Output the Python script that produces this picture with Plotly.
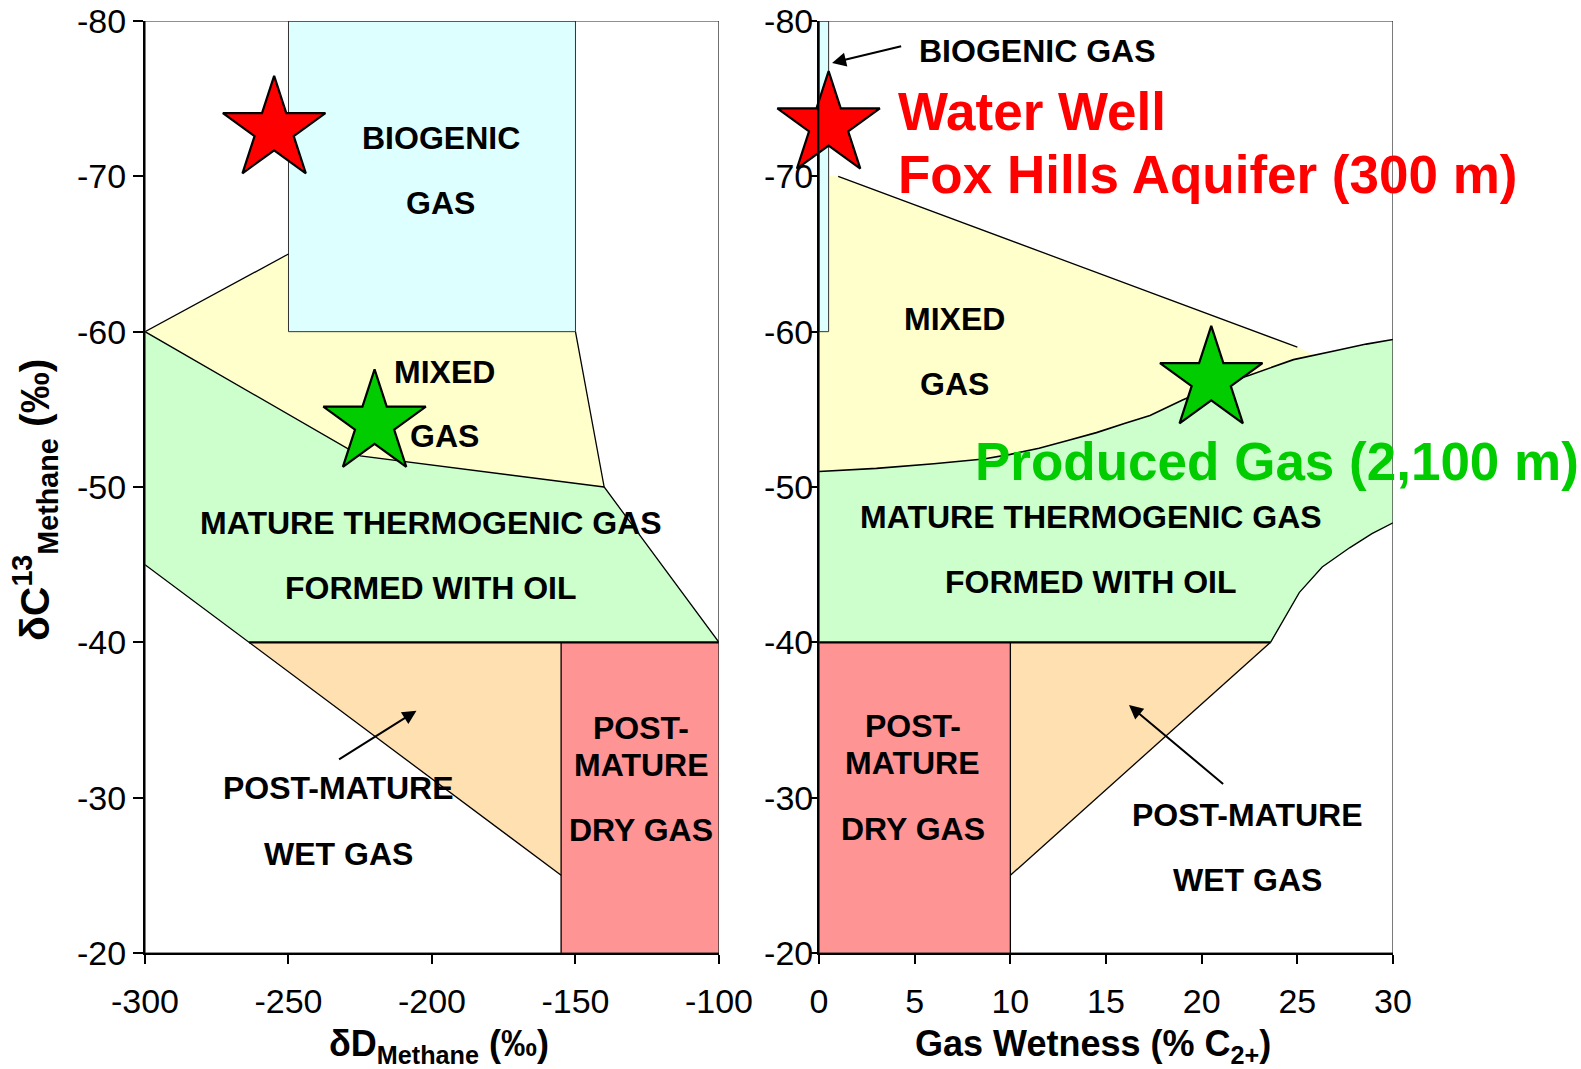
import plotly.graph_objects as go

FONT = "Liberation Sans, Arial, sans-serif"

# ---- axis ticks -------------------------------------------------------------
dD_ticks = [-300, -250, -200, -150, -100]
dD_ticktext = ["-300", "-250", "-200", "-150", "-100"]
wet_ticks = [0, 5, 10, 15, 20, 25, 30]
wet_ticktext = ["0", "5", "10", "15", "20", "25", "30"]
c13_ticks = [-80, -70, -60, -50, -40, -30, -20]
c13_ticktext = ["-80", "-70", "-60", "-50", "-40", "-30", "-20"]

# ---- left panel: δD vs δ13C genetic fields ---------------------------------
bio_dD = [-250, -150, -150, -250]
bio_c13 = [-80, -80, -60, -60]
mixed_dD = [-300, -250, -250, -150, -140, -225]
mixed_c13 = [-60, -65, -60, -60, -50, -52]
mature_dD = [-300, -225, -140, -100, -263.75, -300]
mature_c13 = [-60, -52, -50, -40, -40, -45]
wet_dD = [-263.75, -155, -155]
wet_c13 = [-40, -40, -25]
dry_dD = [-155, -100, -100, -155]
dry_c13 = [-40, -40, -20, -20]

# field boundaries (left)
edge_top_dD = [-300, -250]
edge_top_c13 = [-60, -65]
edge_right_dD = [-150, -140, -100]
edge_right_c13 = [-60, -50, -40]
edge_mid_dD = [-300, -225, -140]
edge_mid_c13 = [-60, -52, -50]
edge_diag_dD = [-300, -155]
edge_diag_c13 = [-45, -25]
edge_40_dD = [-263.75, -100]
edge_40_c13 = [-40, -40]
edge_dry_dD = [-155, -155]
edge_dry_c13 = [-40, -20]

# ---- right panel: gas wetness vs δ13C fields -------------------------------
bio_wet = [0, 0.5, 0.5, 0]
bio_c13_r = [-80, -80, -60, -60]
mixed_top_wet = [1, 25]
mixed_top_c13 = [-70, -59]
mixed_tip_wet, mixed_tip_c13 = 25.9, -58.45
# upper boundary of the thermogenic field
thermo_top_wet = [0, 3, 6, 8.6, 10, 11.5, 13, 14.5, 16, 17.3, 19, 20.5, 22.5, 24.8, 27.1, 28.6, 30]
thermo_top_c13 = [-51.0, -51.2, -51.5, -51.8, -52.1, -52.5, -53.0, -53.5, -54.1, -54.6, -55.6, -56.4, -57.2, -58.2, -58.8, -59.2, -59.5]
# lower/right boundary of the thermogenic field
thermo_side_wet = [30, 28.9, 27.75, 26.3, 25.1, 24.25, 23.6]
thermo_side_c13 = [-47.7, -47.0, -46.1, -44.85, -43.2, -41.4, -40]
dry_wet = [0, 10, 10, 0]
dry_c13_r = [-40, -40, -20, -20]
wet_wet = [10, 23.6, 10]
wet_c13_r = [-40, -40, -25]
edge40_wet = [0, 23.6]
edge40_c13 = [-40, -40]
edge_dry_wet = [10, 10]
edge_dry_c13_r = [-40, -20]
edge_diag_wet = [10, 23.6]
edge_diag_c13_r = [-25, -40]

# ---- samples ----------------------------------------------------------------
well_dD, well_c13_l = -255, -73.0
gas_dD, gas_c13_l = -220, -54.1
well_wet, well_c13_r = 0.5, -73.3
gas_wet, gas_c13_r = 20.5, -56.9

C_BIO = "#DDFFFF"
C_MIX = "#FFFFCC"
C_MAT = "#CCFFCC"
C_WET = "#FFE0B0"
C_DRY = "#FF9494"

fig = go.Figure()


def area(x, y, color, xa, ya, outline=None):
    fig.add_trace(go.Scatter(
        x=x + x[:1], y=y + y[:1], fill="toself", fillcolor=color, mode="lines",
        line=dict(color=outline or color, width=1 if outline else 0.5),
        hoverinfo="skip", showlegend=False, xaxis=xa, yaxis=ya))


def edge(x, y, xa, ya, width=1.3):
    fig.add_trace(go.Scatter(
        x=x, y=y, mode="lines", line=dict(color="black", width=width, shape="linear"),
        hoverinfo="skip", showlegend=False, xaxis=xa, yaxis=ya))


# left panel fields
area(mixed_dD, mixed_c13, C_MIX, "x", "y")
area(mature_dD, mature_c13, C_MAT, "x", "y")
area(wet_dD, wet_c13, C_WET, "x", "y")
area(dry_dD, dry_c13, C_DRY, "x", "y")
area(bio_dD, bio_c13, C_BIO, "x", "y", outline="#333333")
edge(edge_top_dD, edge_top_c13, "x", "y")
edge(edge_right_dD, edge_right_c13, "x", "y")
edge(edge_mid_dD, edge_mid_c13, "x", "y")
edge(edge_diag_dD, edge_diag_c13, "x", "y")
edge(edge_dry_dD, edge_dry_c13, "x", "y")
edge(edge_40_dD, edge_40_c13, "x", "y", width=2.2)

# right panel fields
below_tip = [(w, c) for w, c in zip(thermo_top_wet, thermo_top_c13) if w < mixed_tip_wet]
mix_poly_wet = [0.5] + mixed_top_wet + [mixed_tip_wet] + [w for w, _ in reversed(below_tip)] + [0, 0.5]
mix_poly_c13 = [-70] + mixed_top_c13 + [mixed_tip_c13] + [c for _, c in reversed(below_tip)] + [-60, -60]
area(mix_poly_wet, mix_poly_c13, C_MIX, "x2", "y2")
area(thermo_top_wet + thermo_side_wet + [0], thermo_top_c13 + thermo_side_c13 + [-40], C_MAT, "x2", "y2")
area(wet_wet, wet_c13_r, C_WET, "x2", "y2")
area(dry_wet, dry_c13_r, C_DRY, "x2", "y2")
area(bio_wet, bio_c13_r, C_BIO, "x2", "y2", outline="#333333")
edge(mixed_top_wet, mixed_top_c13, "x2", "y2")
edge(thermo_top_wet, thermo_top_c13, "x2", "y2", width=1.6)
edge(thermo_side_wet, thermo_side_c13, "x2", "y2", width=1.3)
edge(edge_dry_wet, edge_dry_c13_r, "x2", "y2")
edge(edge_diag_wet, edge_diag_c13_r, "x2", "y2")
edge(edge40_wet, edge40_c13, "x2", "y2", width=2.2)

# sample stars
for sx, sy, col, xa, ya in [
    (well_dD, well_c13_l, "#FF0000", "x", "y"),
    (gas_dD, gas_c13_l, "#00CC00", "x", "y"),
    (well_wet, well_c13_r, "#FF0000", "x2", "y2"),
    (gas_wet, gas_c13_r, "#00CC00", "x2", "y2"),
]:
    fig.add_trace(go.Scatter(
        x=[sx], y=[sy], mode="markers", cliponaxis=False,
        marker=dict(symbol="star", size=77, color=col, line=dict(color="black", width=2.2)),
        hoverinfo="skip", showlegend=False, xaxis=xa, yaxis=ya))

# frames (thin top/right borders)
for xa, ya, x0, x1 in [("x", "y", -300, -100), ("x2", "y2", 0, 30)]:
    fig.add_shape(type="rect", xref=xa, yref=ya, x0=x0, x1=x1, y0=-80, y1=-20,
                  line=dict(color="#222222", width=1.2), fillcolor="rgba(0,0,0,0)", layer="above")

# field labels
label_font = dict(family=FONT, size=32, color="black", weight="bold")
labels = [
    ("x", "y", -197, -72.5, "BIOGENIC"),
    ("x", "y", -197, -68.3, "GAS"),
    ("x", "y", -195.6, -57.4, "MIXED"),
    ("x", "y", -195.6, -53.3, "GAS"),
    ("x", "y", -200.5, -47.7, "MATURE THERMOGENIC GAS"),
    ("x", "y", -200.5, -43.5, "FORMED WITH OIL"),
    ("x", "y", -127, -34.5, "POST-"),
    ("x", "y", -127, -32.1, "MATURE"),
    ("x", "y", -127, -27.9, "DRY GAS"),
    ("x", "y", -232.5, -30.6, "POST-MATURE"),
    ("x", "y", -232.5, -26.4, "WET GAS"),
    ("x2", "y2", 11.4, -78.05, "BIOGENIC GAS"),
    ("x2", "y2", 7.1, -60.8, "MIXED"),
    ("x2", "y2", 7.1, -56.6, "GAS"),
    ("x2", "y2", 14.2, -48.1, "MATURE THERMOGENIC GAS"),
    ("x2", "y2", 14.2, -43.9, "FORMED WITH OIL"),
    ("x2", "y2", 4.9, -34.6, "POST-"),
    ("x2", "y2", 4.9, -32.2, "MATURE"),
    ("x2", "y2", 4.9, -28.0, "DRY GAS"),
    ("x2", "y2", 22.4, -28.9, "POST-MATURE"),
    ("x2", "y2", 22.4, -24.7, "WET GAS"),
]
for xa, ya, lx, ly, txt in labels:
    fig.add_annotation(xref=xa, yref=ya, x=lx, y=ly, text=txt, showarrow=False,
                       xanchor="center", yanchor="middle", font=label_font)

# sample names
fig.add_annotation(xref="x2", yref="y2", x=4.0, y=-74.2, text="Water Well", showarrow=False,
                   xanchor="left", yanchor="middle",
                   font=dict(family=FONT, size=53, color="#FF0000", weight="bold"))
fig.add_annotation(xref="x2", yref="y2", x=4.0, y=-70.1, text="Fox Hills Aquifer (300 m)", showarrow=False,
                   xanchor="left", yanchor="middle",
                   font=dict(family=FONT, size=53, color="#FF0000", weight="bold"))
fig.add_annotation(xref="x2", yref="y2", x=8.05, y=-51.65, text="Produced Gas (2,100 m)", showarrow=False,
                   xanchor="left", yanchor="middle",
                   font=dict(family=FONT, size=53, color="#00CC00", weight="bold"))

# pointer arrows
arrows = [
    ("x", "y", -205.4, -35.6, -232.9, -32.4),
    ("x2", "y2", 16.2, -35.96, 21.2, -30.8),
    ("x2", "y2", 0.68, -77.3, 4.37, -78.4),
]
for xa, ya, hx, hy, tx, ty in arrows:
    fig.add_annotation(xref=xa, yref=ya, axref=xa, ayref=ya, x=hx, y=hy, ax=tx, ay=ty,
                       text="", showarrow=True, arrowhead=2, arrowsize=1.4, arrowwidth=2,
                       arrowcolor="black")

# axis titles
title_font = dict(family=FONT, size=36, color="black", weight="bold")
fig.add_annotation(xref="paper", yref="paper", x=0.2356, y=-0.0995,
                   text="δD<sub>Methane</sub> (‰)", showarrow=False,
                   xanchor="center", yanchor="middle", font=title_font)
fig.add_annotation(xref="paper", yref="paper", x=0.7596, y=-0.0995,
                   text="Gas Wetness (% C<sub>2+</sub>)", showarrow=False,
                   xanchor="center", yanchor="middle", font=title_font)
fig.add_annotation(xref="paper", yref="paper", x=-0.0881, y=0.486,
                   text="δC<sup>13</sup><sub>Methane</sub> (‰)", showarrow=False, textangle=-90,
                   xanchor="center", yanchor="middle", font=dict(family=FONT, size=41, color="black", weight="bold"))

tick_font = dict(family=FONT, size=34, color="black")
axis_common = dict(showgrid=False, zeroline=False, showline=True, linecolor="black", linewidth=2,
                   ticks="outside", tickcolor="black", tickwidth=2, tickfont=tick_font, automargin=False)

fig.update_layout(
    width=1581, height=1069,
    margin=dict(l=145, r=188, t=21, b=116),
    paper_bgcolor="white", plot_bgcolor="white",
    showlegend=False,
    xaxis=dict(domain=[0, 0.4599], range=[-300, -100], anchor="y",
               tickvals=dD_ticks, ticktext=dD_ticktext, ticklen=9, ticklabelstandoff=8, **axis_common),
    yaxis=dict(domain=[0, 1], range=[-20, -80], anchor="x",
               tickvals=c13_ticks, ticktext=c13_ticktext, ticklen=10, ticklabelstandoff=0, **axis_common),
    xaxis2=dict(domain=[0.5401, 1], range=[0, 30], anchor="y2",
                tickvals=wet_ticks, ticktext=wet_ticktext, ticklen=9, ticklabelstandoff=8, **axis_common),
    yaxis2=dict(domain=[0, 1], range=[-20, -80], anchor="x2",
                tickvals=c13_ticks, ticktext=c13_ticktext, ticklen=7, ticklabelstandoff=-10, **axis_common),
)

fig.write_html("out.html")
